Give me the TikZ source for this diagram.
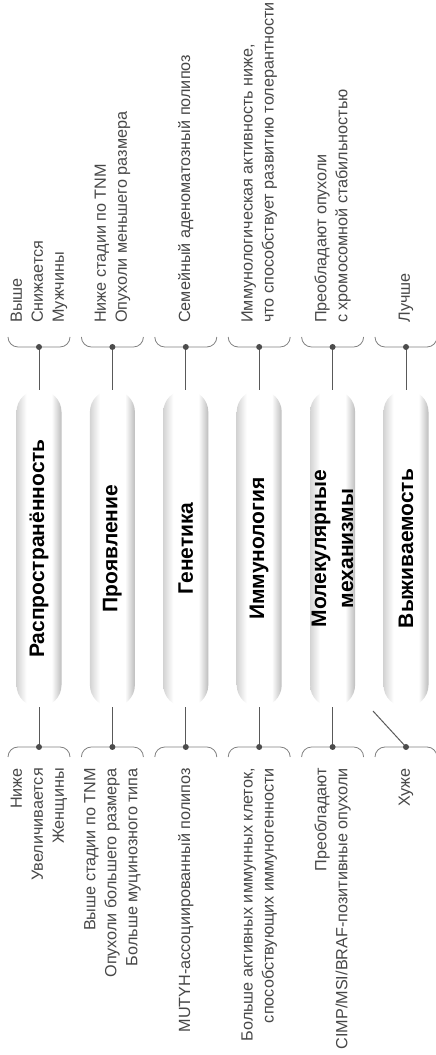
\documentclass[tikz,border=0pt]{standalone}
\usepackage{fontspec}
\setmainfont{Liberation Sans}
\pgfdeclarehorizontalshading{pillshade}{100bp}{color(0bp)=(black!17); color(25bp)=(black!17);
    color(36bp)=(white); color(64bp)=(white); color(75bp)=(black!26); color(100bp)=(black!26)}
\begin{document}
\begin{tikzpicture}[
    x=1pt, y=1pt,
    pill/.style={rotate=90, rectangle, rounded corners=22pt, minimum width=317pt,
        minimum height=45pt, inner sep=0pt, align=center, shading=pillshade,
        font=\bfseries\fontsize{21}{27}\selectfont},
    note/.style={rotate=90, inner sep=0pt, text=black!72, font=\fontsize{16.2}{21}\selectfont},
    dot/.style={circle, fill=black!70, inner sep=0pt, minimum size=6pt},
    conn/.style={draw=black!65, line width=1pt},
    brace/.style={draw=black!50, line width=0.8pt}
]
    \useasboundingbox (0,0) rectangle (436,1055);

    % Pills
    \node[pill] (p1) at (39,506.5) {Распространённость};
    \node[pill] (p2) at (112.4,506.5) {Проявление};
    \node[pill] (p3) at (185.8,506.5) {Генетика};
    \node[pill] (p4) at (259.2,506.5) {Иммунология};
    \node[pill] (p5) at (332.6,506.5) {Молекулярные\\механизмы};
    \node[pill] (p6) at (406,506.5) {Выживаемость};

    % Brace points
    \coordinate (t1) at (39,708);    \coordinate (b1) at (39,308);
    \coordinate (t2) at (112.4,708); \coordinate (b2) at (112.4,308);
    \coordinate (t3) at (185.8,708); \coordinate (b3) at (185.8,308);
    \coordinate (t4) at (259.2,708); \coordinate (b4) at (259.2,308);
    \coordinate (t5) at (332.6,708); \coordinate (b5) at (332.6,308);
    \coordinate (t6) at (406,708);   \coordinate (b6) at (406,308);
    \coordinate (s6) at (373,344);

    % Upper braces
    \draw[brace] ([shift={(-31,10)}]t1) to[out=-90,in=180] ++(10,-10) -- ++(42,0) to[out=0,in=-90] ++(10,10);
    \draw[brace] ([shift={(-31,10)}]t2) to[out=-90,in=180] ++(10,-10) -- ++(42,0) to[out=0,in=-90] ++(10,10);
    \draw[brace] ([shift={(-31,10)}]t3) to[out=-90,in=180] ++(10,-10) -- ++(42,0) to[out=0,in=-90] ++(10,10);
    \draw[brace] ([shift={(-31,10)}]t4) to[out=-90,in=180] ++(10,-10) -- ++(42,0) to[out=0,in=-90] ++(10,10);
    \draw[brace] ([shift={(-31,10)}]t5) to[out=-90,in=180] ++(10,-10) -- ++(42,0) to[out=0,in=-90] ++(10,10);
    \draw[brace] ([shift={(-31,10)}]t6) to[out=-90,in=180] ++(10,-10) -- ++(42,0) to[out=0,in=-90] ++(10,10);

    % Lower braces
    \draw[brace] ([shift={(-31,-10)}]b1) to[out=90,in=180] ++(10,10) -- ++(42,0) to[out=0,in=90] ++(10,-10);
    \draw[brace] ([shift={(-31,-10)}]b2) to[out=90,in=180] ++(10,10) -- ++(42,0) to[out=0,in=90] ++(10,-10);
    \draw[brace] ([shift={(-31,-10)}]b3) to[out=90,in=180] ++(10,10) -- ++(42,0) to[out=0,in=90] ++(10,-10);
    \draw[brace] ([shift={(-31,-10)}]b4) to[out=90,in=180] ++(10,10) -- ++(42,0) to[out=0,in=90] ++(10,-10);
    \draw[brace] ([shift={(-31,-10)}]b5) to[out=90,in=180] ++(10,10) -- ++(42,0) to[out=0,in=90] ++(10,-10);
    \draw[brace] ([shift={(-31,-10)}]b6) to[out=90,in=180] ++(10,10) -- ++(42,0) to[out=0,in=90] ++(10,-10);

    % Connectors
    \draw[conn] (p1.east) -- (t1); \draw[conn] (p1.west) -- (b1);
    \draw[conn] (p2.east) -- (t2); \draw[conn] (p2.west) -- (b2);
    \draw[conn] (p3.east) -- (t3); \draw[conn] (p3.west) -- (b3);
    \draw[conn] (p4.east) -- (t4); \draw[conn] (p4.west) -- (b4);
    \draw[conn] (p5.east) -- (t5); \draw[conn] (p5.west) -- (b5);
    \draw[conn] (p6.east) -- (t6); \draw[conn] (s6) -- (b6);

    % Dots
    \node[dot] (d1t) at (t1) {}; \node[dot] (d1b) at (b1) {};
    \node[dot] (d2t) at (t2) {}; \node[dot] (d2b) at (b2) {};
    \node[dot] (d3t) at (t3) {}; \node[dot] (d3b) at (b3) {};
    \node[dot] (d4t) at (t4) {}; \node[dot] (d4b) at (b4) {};
    \node[dot] (d5t) at (t5) {}; \node[dot] (d5b) at (b5) {};
    \node[dot] (d6t) at (t6) {}; \node[dot] (d6b) at (b6) {};

    % Upper notes
    \node[note, anchor=west, align=left] (u1) at (39,732) {Выше\\Снижается\\Мужчины};
    \node[note, anchor=west, align=left] (u2) at (112.4,732) {Ниже стадии по TNM\\Опухоли меньшего размера};
    \node[note, anchor=west, align=left] (u3) at (185.8,732) {Семейный аденоматозный полипоз};
    \node[note, anchor=west, align=left] (u4) at (259.2,732) {Иммунологическая активность ниже,\\что способствует развитию толерантности};
    \node[note, anchor=west, align=left] (u5) at (332.6,732) {Преобладают опухоли\\с хромосомной стабильностью};
    \node[note, anchor=west, align=left] (u6) at (406,732) {Лучше};

    % Lower notes
    \node[note, anchor=east, align=right] (l1) at (39,287) {Ниже\\Увеличивается\\Женщины};
    \node[note, anchor=east, align=right] (l2) at (112.4,287) {Выше стадии по TNM\\Опухоли большего размера\\Больше муцинозного типа};
    \node[note, anchor=east, align=right] (l3) at (185.8,287) {MUTYH-ассоциированный полипоз};
    \node[note, anchor=east, align=right] (l4) at (259.2,287) {Больше активных иммунных клеток,\\способствующих иммуногенности};
    \node[note, anchor=east, align=right] (l5) at (332.6,287) {Преобладают\\CIMP/MSI/BRAF-позитивные опухоли};
    \node[note, anchor=east, align=right] (l6) at (406,287) {Хуже};
\end{tikzpicture}
\end{document}
